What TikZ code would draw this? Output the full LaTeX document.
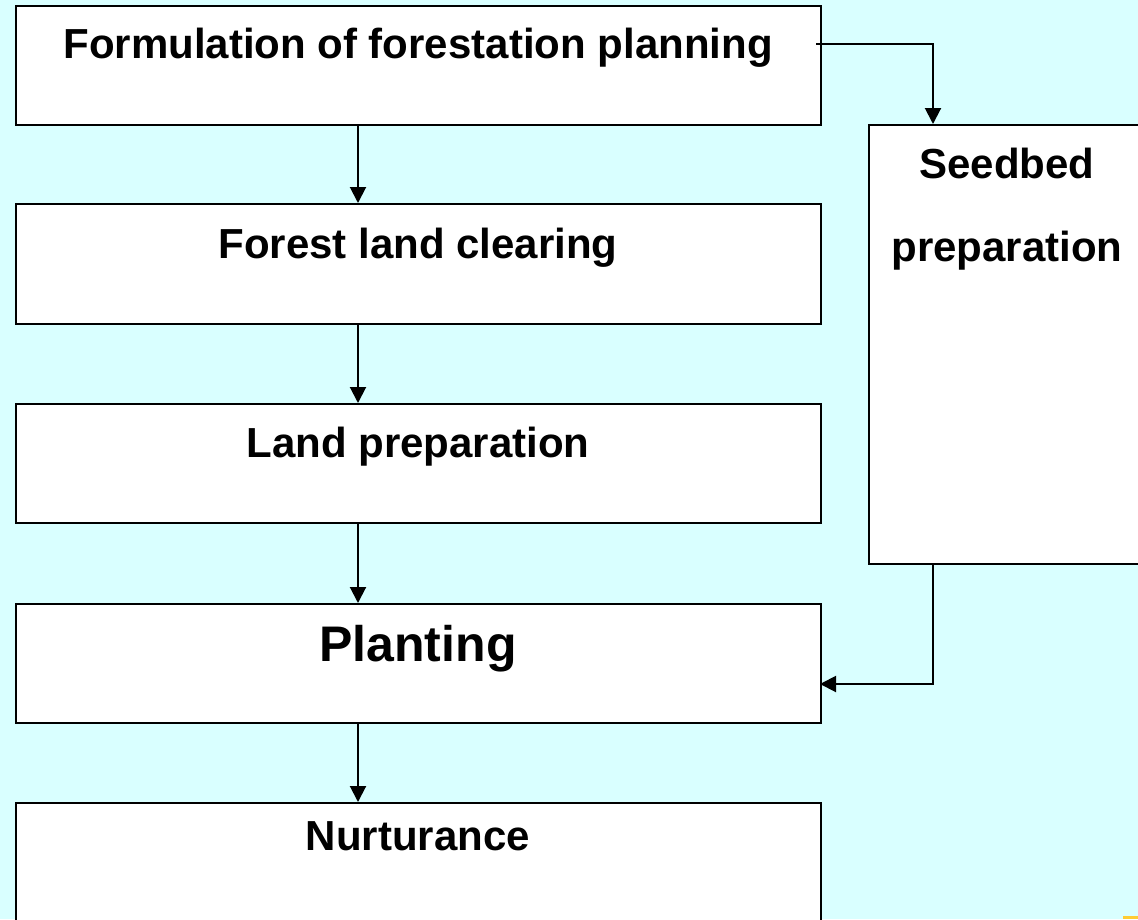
\documentclass[tikz,border=0pt]{standalone}
\usepackage{fontspec}
\setmainfont{Liberation Sans}
\usetikzlibrary{arrows.meta}
\definecolor{sky_bg}{RGB}{217, 255, 255}
\definecolor{tab_yellow}{RGB}{255, 204, 51}
\tikzstyle{stage}=[rectangle,fill=white,draw=black,line width=2pt,
  inner sep=0pt,anchor=north west]
\tikzstyle{txt}=[anchor=base,inner sep=0pt,font=\fontsize{42}{42}\selectfont\bfseries]
\tikzstyle{bigtxt}=[anchor=base,inner sep=0pt,font=\fontsize{50}{50}\selectfont\bfseries]
\tikzstyle{arr}=[line width=2pt,-{Triangle[length=16pt,width=16pt]}]

\begin{document}
\begin{tikzpicture}[x=1pt,y=-1pt]
        \useasboundingbox (0,0) rectangle (1138,919);
        \fill[sky_bg] (0,0) rectangle (1138,919);
        \begin{scope}
        \clip (0,0) rectangle (1138,919);
        \node [style=stage,minimum width=805pt,minimum height=119pt] (plan) at (15,5) {};
        \node [style=stage,minimum width=805pt,minimum height=120pt] (clear) at (15,203) {};
        \node [style=stage,minimum width=805pt,minimum height=119pt] (landprep) at (15,403) {};
        \node [style=stage,minimum width=805pt,minimum height=119pt] (plant) at (15,603) {};
        \node [style=stage,minimum width=805pt,minimum height=140pt] (nurture) at (15,802) {};
        \node [style=stage,minimum width=290pt,minimum height=439pt] (seedbed) at (868,124) {};
        \fill[tab_yellow] (1123,916) rectangle (1138,919);
        \end{scope}
        % texts
        \node [style=txt] (plan_t) at (418,58) {Formulation of forestation planning};
        \node [style=txt] (clear_t) at (418,258) {Forest land clearing};
        \node [style=txt] (land_t) at (418,457) {Land preparation};
        \node [style=bigtxt] (planting_t) at (418,661) {Planting};
        \node [style=txt] (nurt_t) at (418,850) {Nurturance};
        \node [style=txt] (seed_t) at (1007,178) {Seedbed};
        \node [style=txt] (seed_t2) at (1007,261) {preparation};
        % connectors
        \coordinate (spine) at (358,0);
        \coordinate (side) at (933,0);
        \coordinate (planout) at (816,44);
        \coordinate (plantin) at (820,684);
        \draw [style=arr] (plan.south -| spine) to (clear.north -| spine);
        \draw [style=arr] (clear.south -| spine) to (landprep.north -| spine);
        \draw [style=arr] (landprep.south -| spine) to (plant.north -| spine);
        \draw [style=arr] (plant.south -| spine) to (nurture.north -| spine);
        \draw [style=arr] (planout) -| (seedbed.north -| side);
        \draw [style=arr] (seedbed.south -| side) |- (plantin);
    \end{tikzpicture}
\end{document}
